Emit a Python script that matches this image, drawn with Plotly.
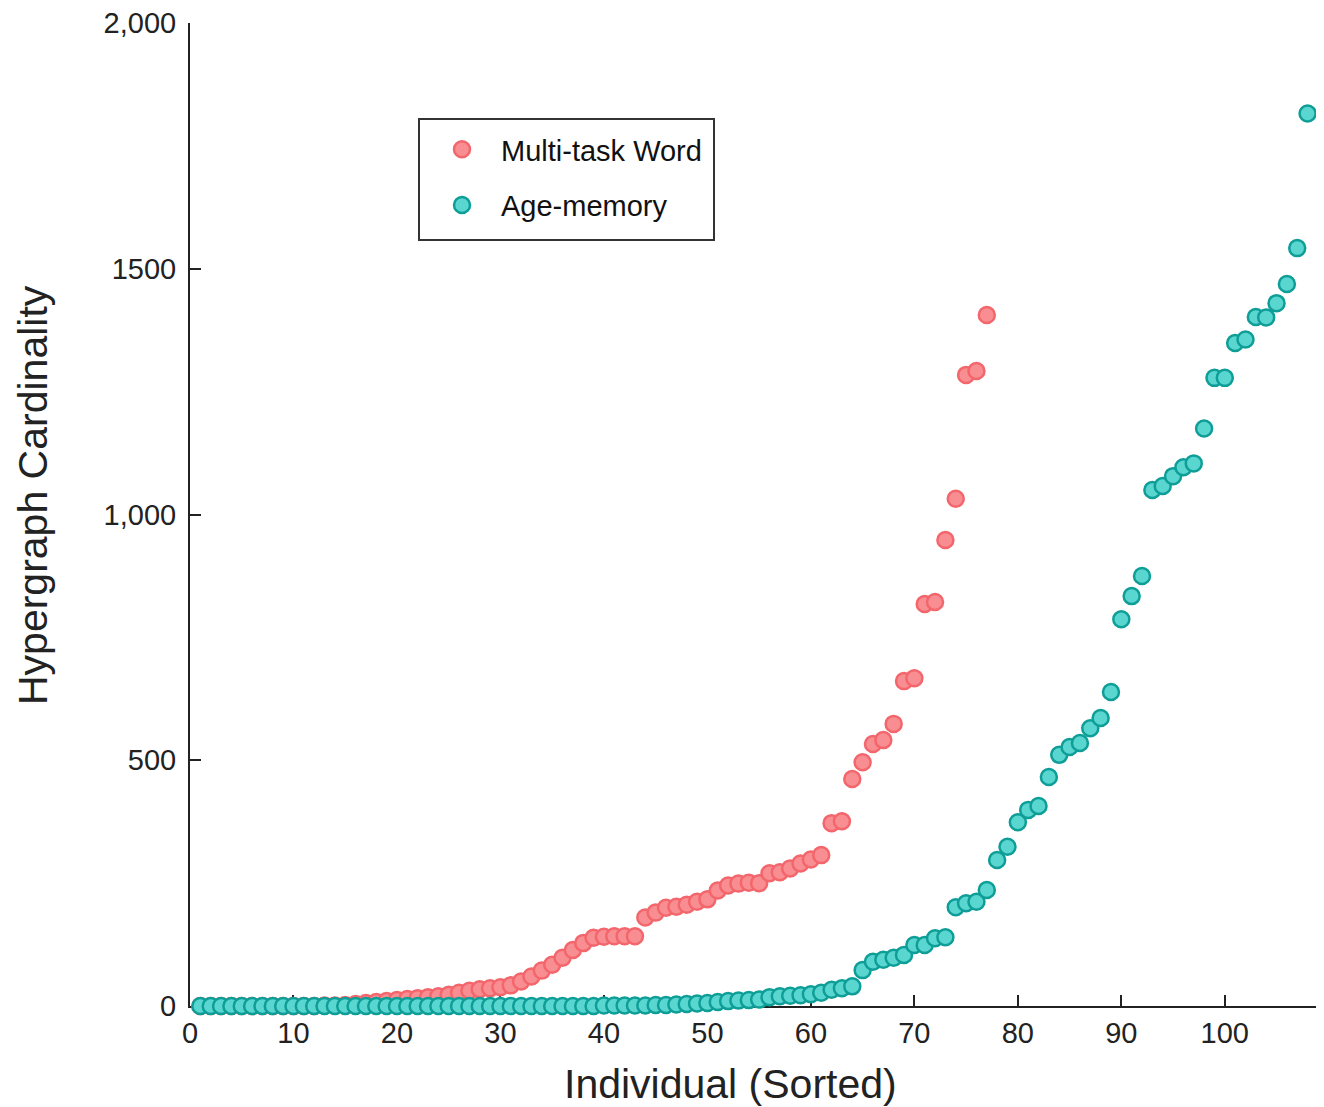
import plotly.graph_objects as go

# Multi-task Word (individuals 1..77, sorted)
word_x = list(range(1, 78))
word_y = [0, 0, 0, 0, 0, 0, 0, 0, 0, 0,
          0, 0, 1, 1, 2, 4, 6, 8, 10, 12,
          14, 16, 18, 20, 23, 27, 31, 34, 36, 38,
          42, 50, 60, 72, 84, 98, 114, 128, 139, 141,
          142, 142, 142, 180, 190, 200, 202, 206, 212, 217,
          235, 245, 249, 251, 250, 270, 272, 280, 290, 298,
          307, 372, 376, 462, 496, 533, 541, 574, 661, 667,
          818, 822, 948, 1032, 1284, 1292, 1406]

# Age-memory (individuals 1..108, sorted)
age_x = list(range(1, 109))
age_y = [0, 0, 0, 0, 0, 0, 0, 0, 0, 0,
         0, 0, 0, 0, 0, 0, 0, 0, 0, 0,
         0, 0, 0, 0, 0, 0, 0, 0, 0, 0,
         0, 0, 0, 0, 0, 0, 0, 0, 0, 1,
         1, 1, 1, 1, 2, 2, 3, 4, 5, 6,
         8, 10, 11, 12, 13, 18, 20, 21, 22, 24,
         27, 33, 36, 40, 73, 90, 94, 98, 104, 124,
         124, 138, 140, 201, 209, 212, 236, 297, 324, 374,
         399, 407, 466, 511, 527, 535, 565, 586, 639, 787,
         834, 875, 1050, 1058, 1078, 1096, 1104, 1175, 1278, 1278,
         1349, 1356, 1402, 1401, 1430, 1469, 1542, 1816]

x_ticks = [0, 10, 20, 30, 40, 50, 60, 70, 80, 90, 100]
y_ticks = [0, 500, 1000, 1500, 2000]
y_ticktext = ["0", "500", "1,000", "1500", "2,000"]

x_title = "Individual (Sorted)"
y_title = "Hypergraph Cardinality"

FONT = "Liberation Sans, Arial, Helvetica, sans-serif"
INK = "#222222"

fig = go.Figure()
fig.add_trace(go.Scatter(
    x=word_x, y=word_y, mode="markers", name="Multi-task Word",
    legendgroup="a", cliponaxis=False,
    marker=dict(size=16, color="#F88E92", line=dict(color="#F2666C", width=2.5)),
))
fig.add_trace(go.Scatter(
    x=age_x, y=age_y, mode="markers", name="Age-memory",
    legendgroup="b", cliponaxis=False,
    marker=dict(size=16, color="#5AD6D0", line=dict(color="#0E9E97", width=2.5)),
))

fig.update_layout(
    width=1316, height=1099,
    margin=dict(l=182, r=4, t=15, b=101, autoexpand=False),
    paper_bgcolor="white", plot_bgcolor="white",
    font=dict(family=FONT, color=INK),
    showlegend=True,
    legend=dict(
        x=0.2062, y=0.8973, xanchor="left", yanchor="top",
        borderwidth=0, bgcolor="rgba(0,0,0,0)",
        font=dict(size=29, family=FONT, color="#111111"),
        tracegroupgap=15, traceorder="grouped",
        itemwidth=68,
    ),
    xaxis=dict(
        range=[0, 109.2], tickvals=x_ticks, ticks="inside", ticklen=11,
        tickwidth=2, tickcolor=INK, showline=True, linecolor=INK,
        linewidth=2, showgrid=False, zeroline=False, layer="below traces",
        ticklabeloverflow="allow", automargin=False,
        tickfont=dict(size=29, family=FONT, color=INK),
    ),
    yaxis=dict(
        range=[0, 2000], tickvals=y_ticks, ticktext=y_ticktext, ticks="inside",
        ticklen=11, tickwidth=2, tickcolor=INK, showline=True,
        linecolor=INK, linewidth=2, showgrid=False, zeroline=False,
        layer="below traces", ticklabelstandoff=6, ticklabeloverflow="allow",
        automargin=False,
        tickfont=dict(size=29, family=FONT, color=INK),
    ),
    shapes=[dict(
        type="rect", xref="paper", yref="paper",
        x0=(419 - 190) / 1130, x1=(714 - 190) / 1130,
        y0=(1006 - 240) / 983, y1=(1006 - 119) / 983,
        line=dict(color="#333333", width=2), fillcolor="rgba(0,0,0,0)",
    )],
    annotations=[
        dict(text=x_title, xref="paper", yref="paper",
             x=(730 - 190) / 1130, y=(1006 - 1084) / 983,
             xanchor="center", yanchor="middle", showarrow=False,
             font=dict(size=41, family=FONT, color=INK)),
        dict(text=y_title, xref="paper", yref="paper",
             x=(33 - 190) / 1130, y=(1006 - 495) / 983, textangle=-90,
             xanchor="center", yanchor="middle", showarrow=False,
             font=dict(size=41, family=FONT, color=INK)),
    ],
)

fig.write_html("out.html")
